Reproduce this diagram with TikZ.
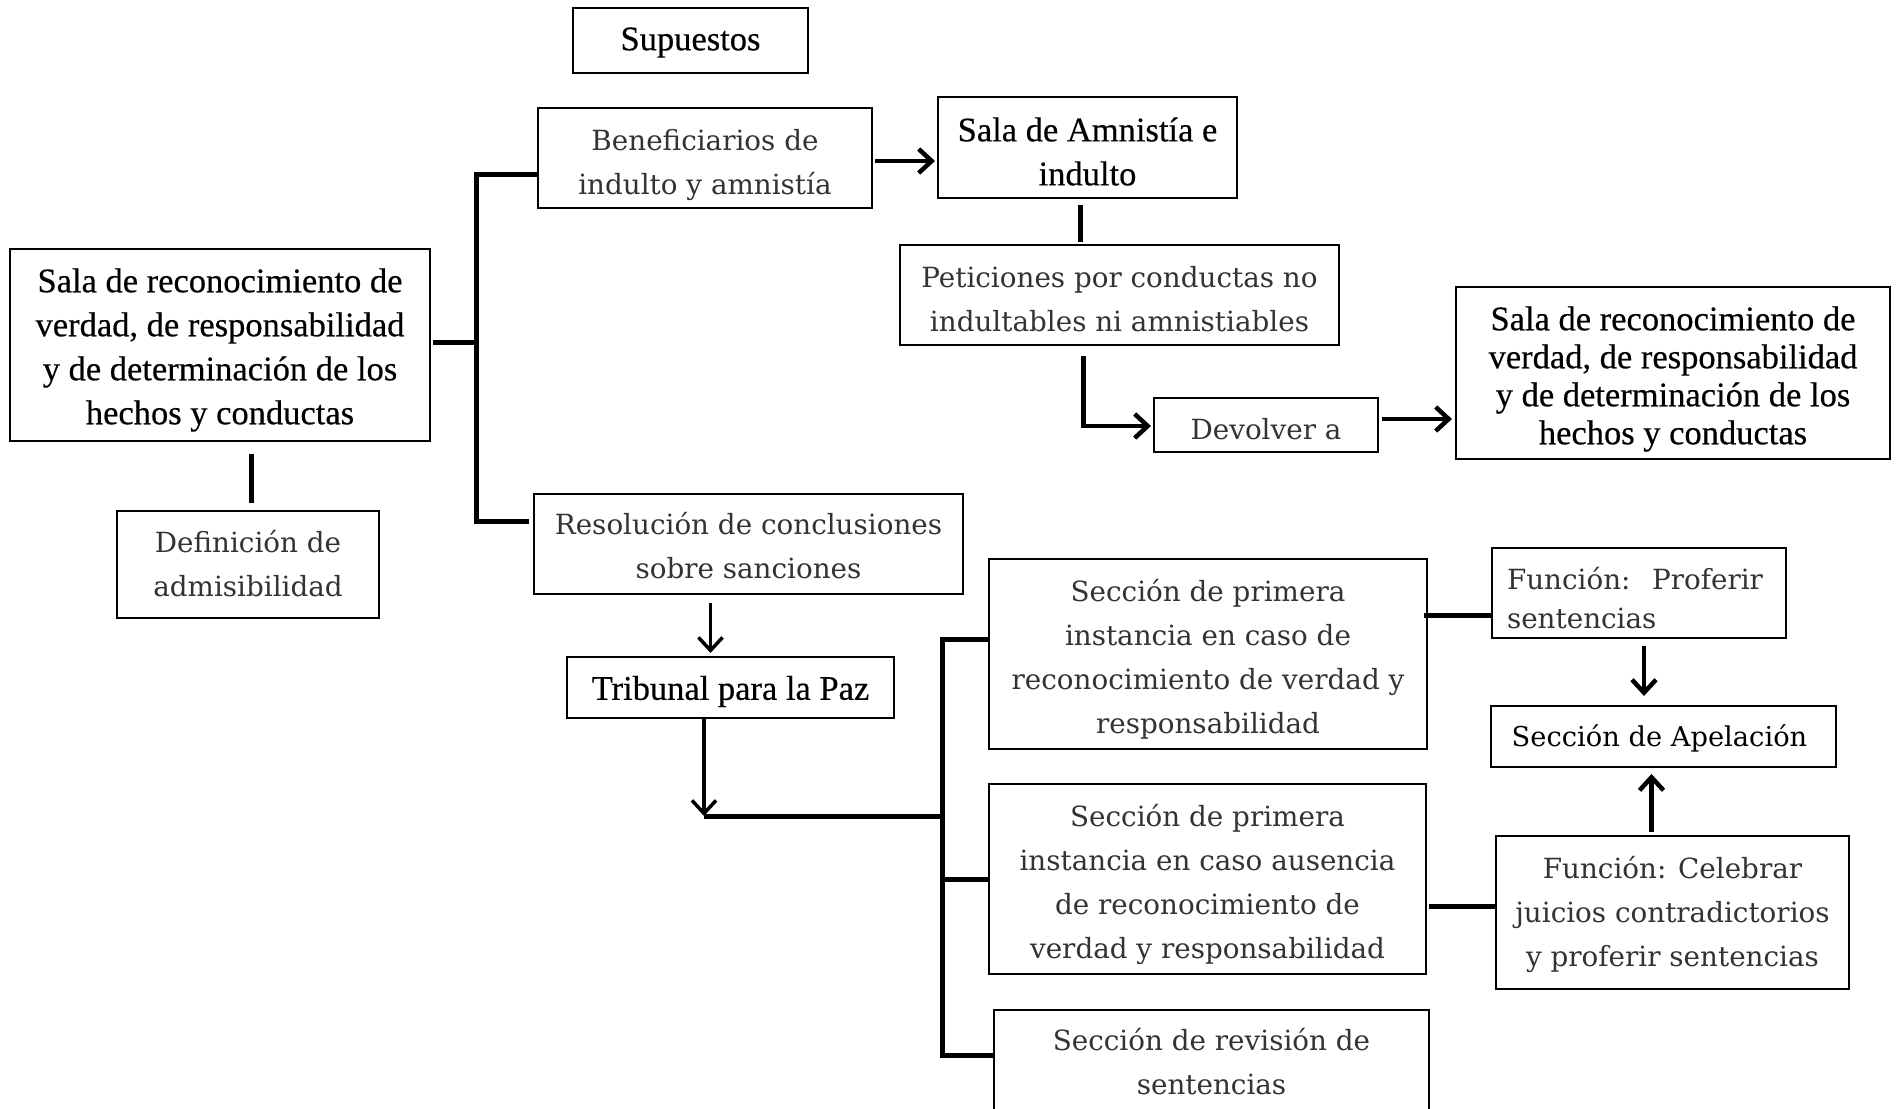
\documentclass[tikz,border=0pt]{standalone}
\usepackage{fontspec}
\setmainfont{Liberation Serif}
\newfontfamily\hdf[FakeBold=0.4]{Liberation Serif}
\newfontfamily\lightf{DejaVu Serif}
\usetikzlibrary{arrows.meta,calc}
\tikzset{
  box/.style={draw, line width=2pt, inner sep=0pt},
  hd/.style={inner sep=0pt, align=center, font=\hdf\fontsize{34.5}{44}\selectfont},
  lt/.style={inner sep=0pt, align=center, font=\lightf\fontsize{27.8}{44}\selectfont, text=black!80},
  conn/.style={line width=5pt},
  arr/.style={line width=4.5pt, -{Straight Barb[length=13pt,width=24pt]}},
}
\begin{document}
\begin{tikzpicture}[x=1pt,y=-1pt]
\fill[white] (0,0) rectangle (1897,1108);
\useasboundingbox (0,0) rectangle (1897,1108);

% boxes
\node[box, minimum width=235, minimum height=65] (sup) at (690.5,40.5) {};
\node[box, minimum width=334, minimum height=100] (ben) at (705,158) {};
\node[box, minimum width=299, minimum height=101] (amn) at (1087.5,147.5) {};
\node[box, minimum width=439, minimum height=100] (pet) at (1119.5,295) {};
\node[box, minimum width=224, minimum height=54] (dev) at (1266,425) {};
\node[box, minimum width=434, minimum height=172] (salaR) at (1673,373) {};
\node[box, minimum width=420, minimum height=192] (salaL) at (220,345) {};
\node[box, minimum width=262, minimum height=107] (def) at (248,564.5) {};
\node[box, minimum width=429, minimum height=100] (res) at (748.5,544) {};
\node[box, minimum width=327, minimum height=61] (tri) at (730.5,687.5) {};
\node[box, minimum width=438, minimum height=190] (s1) at (1208,654) {};
\node[box, minimum width=437, minimum height=190] (s2) at (1207.5,879) {};
\node[box, minimum width=435, minimum height=104] (rev) at (1211.5,1062) {};
\node[box, minimum width=294, minimum height=90] (prof) at (1639,593) {};
\node[box, minimum width=345, minimum height=61] (ape) at (1663.5,736.5) {};
\node[box, minimum width=353, minimum height=153] (cel) at (1672.5,912.5) {};

% texts
\node[hd] (sup-t) at ($(sup)+(0,2)$) {Supuestos};
\node[lt] (ben-t) at ($(ben)+(0,7)$) {Beneficiarios de\\indulto y amnistía};
\node[hd] (amn-t) at ($(amn)+(0,4)$) {Sala de Amnistía e\\indulto};
\node[lt] (pet-t) at ($(pet)+(0,4)$) {Peticiones por conductas no\\indultables ni amnistiables};
\node[lt] (dev-t) at ($(dev)+(0,4)$) {Devolver a};
\node[hd, font=\hdf\fontsize{34.5}{38}\selectfont] (salaR-t) at ($(salaR)+(0,6)$) {Sala de reconocimiento de\\verdad, de responsabilidad\\y de determinación de los\\hechos y conductas};
\node[hd] (salaL-t) at ($(salaL)+(0,5)$) {Sala de reconocimiento de\\verdad, de responsabilidad\\y de determinación de los\\hechos y conductas};
\node[lt] (def-t) at ($(def)+(0,-1)$) {Definición de\\admisibilidad};
\node[lt] (res-t) at ($(res)+(0,2)$) {Resolución de conclusiones\\sobre sanciones};
\node[hd] (tri-t) at ($(tri)+(0,4)$) {Tribunal para la Paz};
\node[lt] (s1-t) at ($(s1)+(0,5)$) {Sección de primera\\instancia en caso de\\reconocimiento de verdad y\\responsabilidad};
\node[lt] (s2-t) at ($(s2)+(0,5)$) {Sección de primera\\instancia en caso ausencia\\de reconocimiento de\\verdad y responsabilidad};
\node[lt] (rev-t) at ($(rev)+(0,0)$) {Sección de revisión de\\sentencias};
\node[lt, align=left, font=\lightf\fontsize{27.8}{39}\selectfont] (prof-t) at ($(prof)+(-4,5)$) {\parbox{256pt}{Función:\hfill Proferir\\sentencias}};
\node[inner sep=0pt, font=\lightf\fontsize{27.3}{44}\selectfont] (ape-t) at ($(ape)+(-4,2)$) {Sección de Apelación};
\node[lt] (cel-t) at ($(cel)+(0,2)$) {Función: Celebrar\\juicios contradictorios\\y proferir sentencias};

\coordinate (bx1) at (476,0);
\coordinate (bx2) at (942,0);
\coordinate (tc) at (704,816);

% left bracket
\draw[conn] ($(salaL.east)+(2,-3)$) -- ($(salaL.east -| bx1)+(0,-3)$);
\draw[conn] ($(ben.west)+(0,16)$) -| ($(res.west -| bx1)+(0,-23)$) -- ($(res.west)+(-4,-23)$);
\draw[conn] ($(salaL.south -| def.north)+(3,12)$) -- ($(def.north)+(3,-7)$);

% top chain
\draw[arr] ($(ben.east)+(2,3)$) -- ($(ben.east -| amn.west)+(-2,3)$);
\draw[conn] ($(amn.south)+(-7,6)$) -- ($(amn.south |- pet.north)+(-7,-2)$);
\draw[arr] ($(pet.south)+(-36,10)$) |- ($(dev.west)+(-2,1)$);
\draw[arr] ($(dev.east)+(3,-6)$) -- ($(dev.east -| salaR.west)+(-3,-6)$);

% tribunal
\draw[arr, line width=3.5pt] ($(res.south)+(-38,8)$) -- ($(res.south |- tri.north)+(-38,-3)$);
\draw[arr, line width=3.5pt] ($(tri.south)+(-26.5,0)$) -- (tc);
\draw[conn] (tc) -- (tc -| bx2);

% right bracket
\draw[conn] ($(s1.west)+(0,-15)$) -| ($(rev.west -| bx2)+(0,-7)$) -- ($(rev.west)+(0,-7)$);
\draw[conn] (bx2 |- s2.west) -- (s2.west);

% functions
\draw[conn] ($(prof.west -| s1.east)+(-4,22)$) -- ($(prof.west)+(0,22)$);
\draw[arr] ($(prof.south)+(5,7)$) -- ($(prof.south |- ape.north)+(5,-9)$);
\draw[arr] ($(cel.north)+(-21,-3)$) -- ($(cel.north |- ape.south)+(-21,6)$);
\draw[conn] ($(cel.west -| s2.east)+(2,-6)$) -- ($(cel.west)+(0,-6)$);
\end{tikzpicture}
\end{document}
